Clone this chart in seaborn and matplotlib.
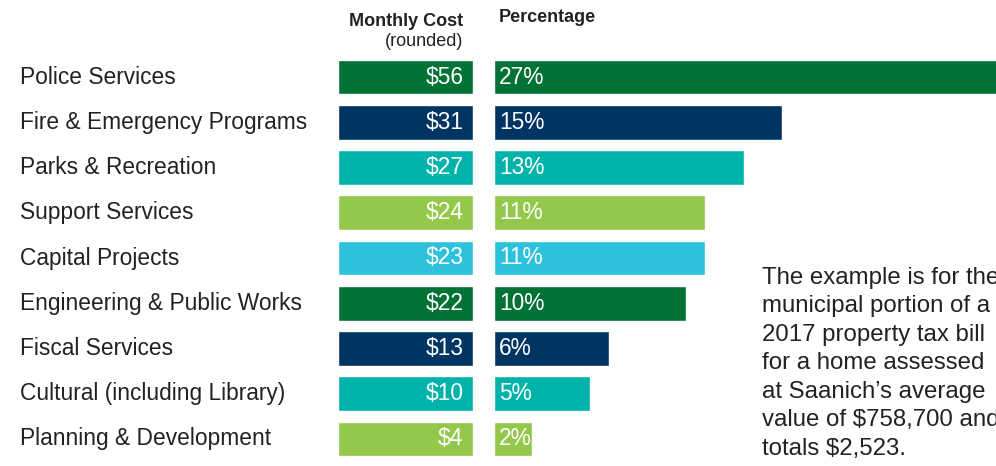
"""Saanich 2017 property tax: monthly cost and share by service area."""

import matplotlib
matplotlib.use("Agg")
import matplotlib.pyplot as plt
import matplotlib.transforms as mtransforms
import seaborn as sns
import pandas as pd

# --- data ---
categories = [
    "Police Services",
    "Fire & Emergency Programs",
    "Parks & Recreation",
    "Support Services",
    "Capital Projects",
    "Engineering & Public Works",
    "Fiscal Services",
    "Cultural (including Library)",
    "Planning & Development",
]
monthly_cost = [56, 31, 27, 24, 23, 22, 13, 10, 4]
percentage = [27, 15, 13, 11, 11, 10, 6, 5, 2]
colors = ["#007236", "#003462", "#00B3AA", "#93C84B", "#2DC1DB",
          "#007236", "#003462", "#00B3AA", "#93C84B"]
note = ("The example is for the\nmunicipal portion of a\n2017 property tax bill\n"
        "for a home assessed\nat Saanich\u2019s average\nvalue of $758,700 and\n"
        "totals $2,523.")

df = pd.DataFrame({"category": categories, "cost": monthly_cost,
                   "pct": percentage, "box": 1})

sns.set_theme(style="white")
plt.rcParams["font.family"] = ["Liberation Sans", "DejaVu Sans"]

fig = plt.figure(figsize=(9.96, 4.66), dpi=100)
W, H = 996, 466
top, bottom = 54.4, 461.6
ax_cost = fig.add_axes([338 / W, (H - bottom) / H, 135 / W, (bottom - top) / H])
ax_pct = fig.add_axes([494 / W, (H - bottom) / H, 502 / W, (bottom - top) / H])

palette = dict(zip(categories, colors))
sns.barplot(data=df, x="box", y="category", hue="category", palette=palette,
            legend=False, orient="h", width=0.77, saturation=1, ax=ax_cost)
sns.barplot(data=df, x="pct", y="category", hue="category", palette=palette,
            legend=False, orient="h", width=0.77, saturation=1, ax=ax_pct)

ax_cost.set_xlim(0, 1)
ax_pct.set_xlim(0, 502 / 19.2)
for ax in (ax_cost, ax_pct):
    ax.set_ylim(len(categories) - 0.5, -0.5)
    ax.set_axis_off()

# values inside bars
for i, (c, p) in enumerate(zip(monthly_cost, percentage)):
    ax_cost.text(0.93, i, f"${c}", color="white", fontsize=16.4,
                 ha="right", va="center")
    ax_pct.text(0.25, i, f"{p}%", color="white", fontsize=16.4,
                ha="left", va="center")

# category labels at the left edge of the figure
trans = mtransforms.blended_transform_factory(fig.transFigure, ax_cost.transData)
for i, cat in enumerate(categories):
    ax_cost.text(20 / W, i, cat, transform=trans, fontsize=16.4,
                 color="#222222", ha="left", va="center")

# column headers
fig.text(463 / W, 1 - 21 / H, "Monthly Cost", fontsize=13, fontweight="bold",
         color="#222222", ha="right", va="center")
fig.text(463 / W, 1 - 42 / H, "(rounded)", fontsize=13,
         color="#222222", ha="right", va="center")
fig.text(499 / W, 1 - 17 / H, "Percentage", fontsize=13, fontweight="bold",
         color="#222222", ha="left", va="center")

# explanatory note
fig.text(762 / W, 1 - 267 / H, note, fontsize=17.3, color="#222222",
         ha="left", va="top", linespacing=1.38)

fig.savefig("out.png", dpi=100)
